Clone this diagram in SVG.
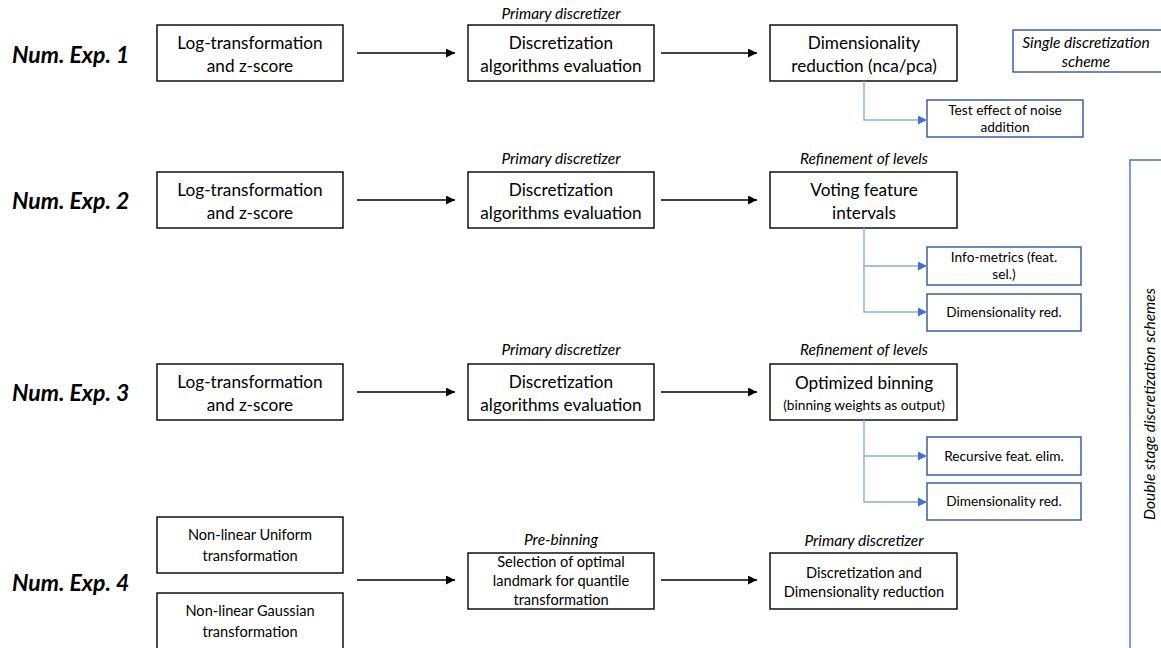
<svg xmlns="http://www.w3.org/2000/svg" width="1161" height="648" viewBox="0 0 1161 648">
<defs>
<marker id="ak" viewBox="0 0 10 10" refX="10" refY="5" markerWidth="9" markerHeight="9" markerUnits="userSpaceOnUse" orient="auto"><path d="M0,0L10,5L0,10z" fill="#000"/></marker>
<marker id="ab" viewBox="0 0 10 10" refX="10" refY="5" markerWidth="9" markerHeight="9" markerUnits="userSpaceOnUse" orient="auto"><path d="M0,0L10,5L0,10z" fill="#4472C4"/></marker>
</defs>
<style>
text{font-family:Lato,"Open Sans","Liberation Sans",sans-serif;fill:#000;text-anchor:middle}
.b{fill:#fff;stroke:#000;stroke-width:1.4}
.s{fill:#fff;stroke:#2F5597;stroke-width:1.4}
.t{font-size:17.2px}
.m{font-size:13.7px}
.n{font-size:14.6px}
.l{font-size:15.5px;font-style:italic}
.h{font-size:23px;font-weight:bold;font-style:italic;text-anchor:start}
.a{stroke:#000;stroke-width:1.4;fill:none;marker-end:url(#ak)}
.c{stroke:#8FAADC;stroke-width:1.4;fill:none;marker-end:url(#ab)}
</style>
<g id="labels">
<text class="h" x="12" y="63">Num. Exp. 1</text>
<text class="h" x="12" y="209">Num. Exp. 2</text>
<text class="h" x="12" y="401">Num. Exp. 3</text>
<text class="h" x="12" y="591">Num. Exp. 4</text>
<text class="l" x="561" y="19">Primary discretizer</text>
<text class="l" x="561" y="164">Primary discretizer</text>
<text class="l" x="864" y="164">Refinement of levels</text>
<text class="l" x="561" y="355">Primary discretizer</text>
<text class="l" x="864" y="355">Refinement of levels</text>
<text class="l" x="561" y="545">Pre-binning</text>
<text class="l" x="864" y="546">Primary discretizer</text>
</g>
<g id="n1a"><rect class="b" x="157" y="25" width="186" height="56"/><text class="t" x="250" y="49">Log-transformation</text><text class="t" x="250" y="72">and z-score</text></g>
<g id="n1b"><rect class="b" x="468" y="25" width="186" height="56"/><text class="t" x="561" y="49">Discretization</text><text class="t" x="561" y="72">algorithms evaluation</text></g>
<g id="n1c"><rect class="b" x="770" y="25" width="187" height="56"/><text class="t" x="864" y="49">Dimensionality</text><text class="t" x="864" y="72">reduction (nca/pca)</text></g>
<g id="n1d"><rect class="s" x="927" y="100" width="156" height="37"/><text class="m" x="1005" y="115">Test effect of noise</text><text class="m" x="1005" y="132">addition</text></g>
<g id="single"><rect class="s" x="1013" y="30" width="160" height="42"/><text class="l" x="1086" y="48">Single discretization</text><text class="l" x="1086" y="67">scheme</text></g>

<g id="n2a"><rect class="b" x="157" y="172" width="186" height="56"/><text class="t" x="250" y="196">Log-transformation</text><text class="t" x="250" y="219">and z-score</text></g>
<g id="n2b"><rect class="b" x="468" y="172" width="186" height="56"/><text class="t" x="561" y="196">Discretization</text><text class="t" x="561" y="219">algorithms evaluation</text></g>
<g id="n2c"><rect class="b" x="770" y="172" width="187" height="56"/><text class="t" x="864" y="196">Voting feature</text><text class="t" x="864" y="219">intervals</text></g>
<g id="n2d"><rect class="s" x="927" y="247" width="154" height="38"/><text class="m" x="1004" y="262">Info-metrics (feat.</text><text class="m" x="1004" y="279">sel.)</text></g>
<g id="n2e"><rect class="s" x="927" y="294" width="154" height="37"/><text class="m" x="1004" y="317">Dimensionality red.</text></g>

<g id="n3a"><rect class="b" x="157" y="364" width="186" height="56"/><text class="t" x="250" y="388">Log-transformation</text><text class="t" x="250" y="411">and z-score</text></g>
<g id="n3b"><rect class="b" x="468" y="364" width="186" height="56"/><text class="t" x="561" y="388">Discretization</text><text class="t" x="561" y="411">algorithms evaluation</text></g>
<g id="n3c"><rect class="b" x="770" y="364" width="187" height="56"/><text class="t" x="864" y="389">Optimized binning</text><text class="m" x="864" y="410">(binning weights as output)</text></g>
<g id="n3d"><rect class="s" x="927" y="437" width="154" height="38"/><text class="m" x="1004" y="461">Recursive feat. elim.</text></g>
<g id="n3e"><rect class="s" x="927" y="483" width="154" height="37"/><text class="m" x="1004" y="506">Dimensionality red.</text></g>

<g id="n4a"><rect class="b" x="157" y="517" width="186" height="56"/><text class="n" x="250" y="540">Non-linear Uniform</text><text class="n" x="250" y="561">transformation</text></g>
<g id="n4b"><rect class="b" x="157" y="593" width="186" height="60"/><text class="n" x="250" y="616">Non-linear Gaussian</text><text class="n" x="250" y="637">transformation</text></g>
<g id="n4c"><rect class="b" x="468" y="553" width="186" height="56"/><text class="n" x="561" y="567">Selection of optimal</text><text class="n" x="561" y="586">landmark for quantile</text><text class="n" x="561" y="605">transformation</text></g>
<g id="n4d"><rect class="b" x="770" y="553" width="187" height="56"/><text class="n" x="864" y="578">Discretization  and</text><text class="n" x="864" y="597">Dimensionality reduction</text></g>

<g id="double"><path d="M1161,160H1130V648" fill="none" stroke="#4472C4" stroke-width="1.4"/><text class="l" transform="translate(1155,404) rotate(-90)">Double stage discretization schemes</text></g>

<g id="connectors">
<path class="a" d="M357,53H455"/>
<path class="a" d="M661,53H757"/>
<path class="a" d="M357,200H455"/>
<path class="a" d="M661,200H757"/>
<path class="a" d="M357,392H455"/>
<path class="a" d="M661,392H757"/>
<path class="a" d="M357,580H455"/>
<path class="a" d="M661,580H757"/>
<path class="c" d="M864,81V120H927"/>
<path class="c" d="M864,228V266H927"/>
<path class="c" d="M864,266V312H927"/>
<path class="c" d="M864,420V456H927"/>
<path class="c" d="M864,456V502H927"/>
</g>
</svg>
